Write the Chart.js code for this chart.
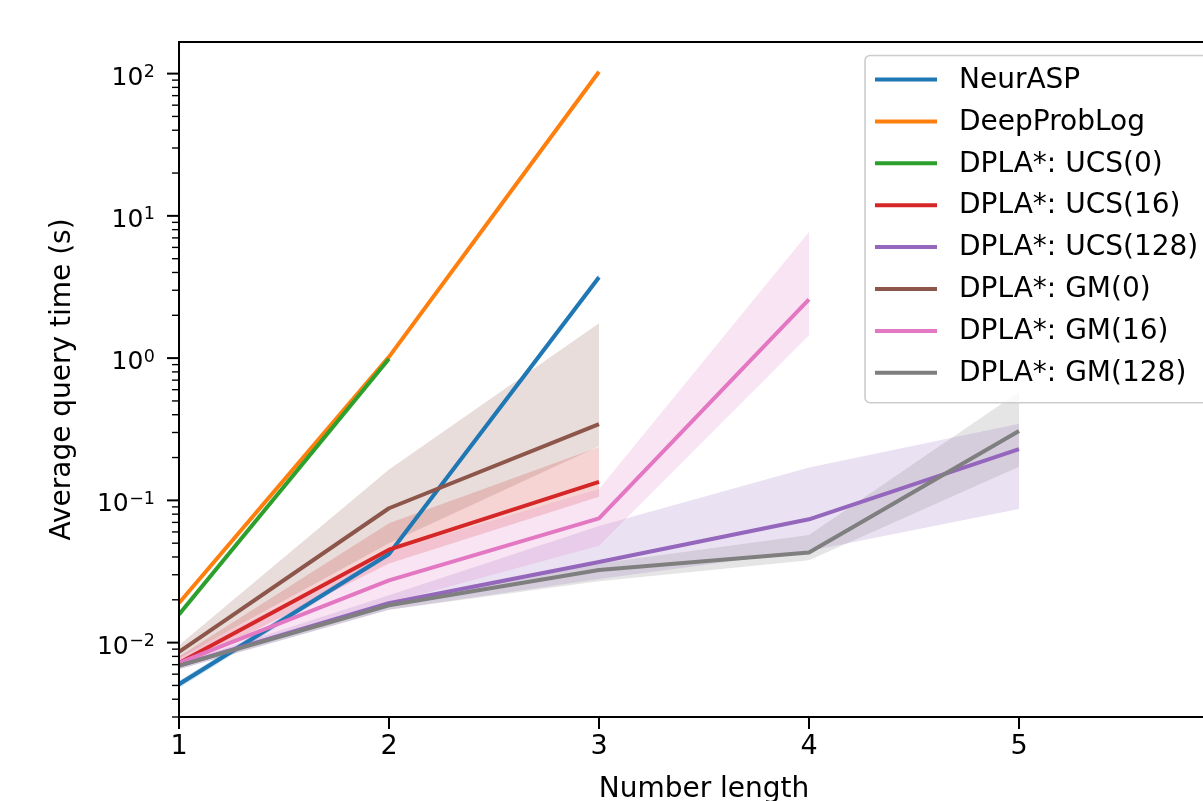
<!DOCTYPE html>
<html>
<head>
<meta charset="utf-8">
<script src="https://cdn.jsdelivr.net/npm/chart.js@4.4.0/dist/chart.umd.min.js"></script>
<style>
    html, body { margin: 0; padding: 0; background: #fff; overflow: hidden; }
    #wrap { width: 1240px; height: 820px; }
</style>
</head>
<body>
<div id="wrap"><canvas id="queryChart" width="1240" height="820"></canvas></div>
<script>
// number lengths on the x axis
const lengths = [1, 2, 3, 4, 5];

// mean query time per method (seconds), with band edges where a band is drawn
const neuraspMean = [0.0051, 0.042, 3.7];
const neuraspLow  = [0.0048, 0.040, 3.5];
const neuraspHigh = [0.0054, 0.044, 3.9];

const deepProbLogMean = [0.019, 1.02, 103];

const ucs0Mean = [0.0158, 0.99];

const ucs16Mean = [0.0072, 0.045, 0.135];
const ucs16Low  = [0.0066, 0.036, 0.106];
const ucs16High = [0.0080, 0.069, 0.237];

const ucs128Mean = [0.0069, 0.0189, 0.0369, 0.0736, 0.229];
const ucs128Low  = [0.0065, 0.0170, 0.0280, 0.0440, 0.087];
const ucs128High = [0.0072, 0.0215, 0.0660, 0.170, 0.345];

const gm0Mean = [0.0086, 0.088, 0.343];
const gm0Low  = [0.0078, 0.050, 0.240];
const gm0High = [0.0096, 0.165, 1.76];

const gm16Mean = [0.0072, 0.0274, 0.0748, 2.59];
const gm16Low  = [0.0066, 0.0190, 0.0480, 1.45];
const gm16High = [0.0080, 0.0440, 0.120, 7.7];

const gm128Mean = [0.0069, 0.0183, 0.0324, 0.0430, 0.307];
const gm128Low  = [0.0065, 0.0170, 0.0270, 0.0380, 0.172];
const gm128High = [0.0072, 0.0196, 0.0360, 0.0570, 0.578];

const seriesNames = ['NeurASP', 'DeepProbLog', 'DPLA*: UCS(0)', 'DPLA*: UCS(16)',
    'DPLA*: UCS(128)', 'DPLA*: GM(0)', 'DPLA*: GM(16)', 'DPLA*: GM(128)'];
const seriesColors = ['#1f77b4', '#ff7f0e', '#2ca02c', '#d62728',
    '#9467bd', '#8c564b', '#e377c2', '#7f7f7f'];

// y tick values: mantissas x decades, labels only on powers of ten
const tickMantissas = [1, 2, 3, 4, 5, 6, 7, 8, 9];
const tickDecades = [-3, -2, -1, 0, 1, 2];

const yMin = 0.003;
const yMax = 166.8;

const series = [
    { mean: neuraspMean, low: neuraspLow, high: neuraspHigh },
    { mean: deepProbLogMean },
    { mean: ucs0Mean },
    { mean: ucs16Mean, low: ucs16Low, high: ucs16High },
    { mean: ucs128Mean, low: ucs128Low, high: ucs128High },
    { mean: gm0Mean, low: gm0Low, high: gm0High },
    { mean: gm16Mean, low: gm16Low, high: gm16High },
    { mean: gm128Mean, low: gm128Low, high: gm128High }
];

function toPoints(vals) {
    return vals.map((v, i) => ({ x: lengths[i], y: v }));
}

function hexToRgba(hex, a) {
    const n = parseInt(hex.slice(1), 16);
    return `rgba(${(n >> 16) & 255}, ${(n >> 8) & 255}, ${n & 255}, ${a})`;
}

const datasets = [];
series.forEach((s, k) => {
    const color = seriesColors[k];
    const order = series.length - k;
    if (s.low) {
        const lowIndex = datasets.length;
        datasets.push({
            label: '_band', data: toPoints(s.low), borderWidth: 0,
            pointRadius: 0, fill: false, order: order
        });
        datasets.push({
            label: '_band', data: toPoints(s.high), borderWidth: 0,
            pointRadius: 0, fill: lowIndex, backgroundColor: hexToRgba(color, 0.2),
            order: order
        });
    }
    datasets.push({
        label: seriesNames[k], data: toPoints(s.mean), borderColor: color,
        borderWidth: 4, pointRadius: 0, fill: false, tension: 0,
        borderCapStyle: 'butt', borderJoinStyle: 'round', order: order
    });
});

function isPowerOfTen(v) {
    const e = Math.round(Math.log10(v));
    return Math.abs(v - Math.pow(10, e)) < 1e-9 * Math.pow(10, e);
}

// frame, tick marks and 10^n labels like matplotlib
const framePlugin = {
    id: 'frame',
    afterDraw(chart) {
        const { ctx, chartArea: a, scales } = chart;
        ctx.save();
        ctx.strokeStyle = '#000';
        ctx.lineWidth = 2;
        ctx.beginPath();
        ctx.moveTo(a.left, a.bottom);
        ctx.lineTo(a.left, a.top);
        ctx.lineTo(a.right, a.top);
        ctx.lineTo(a.right, a.bottom);
        ctx.lineTo(a.left, a.bottom);
        ctx.stroke();
        ctx.fillStyle = '#000';
        ctx.textAlign = 'right';
        ctx.textBaseline = 'alphabetic';
        scales.y.ticks.forEach(t => {
            const major = isPowerOfTen(t.value);
            const py = scales.y.getPixelForValue(t.value);
            ctx.lineWidth = major ? 2 : 1.4;
            ctx.beginPath();
            ctx.moveTo(a.left, py);
            ctx.lineTo(a.left - (major ? 12 : 7), py);
            ctx.stroke();
            if (major) {
                const expText = String(Math.round(Math.log10(t.value))).replace('-', '\u2212');
                ctx.font = '17.5px "DejaVu Sans"';
                const expW = ctx.measureText(expText).width;
                const right = a.left - 24;
                ctx.fillText(expText, right, py + 3.4);
                ctx.font = '25px "DejaVu Sans"';
                ctx.fillText('10', right - expW - 0.5, py + 11);
            }
        });
        ctx.lineWidth = 2;
        scales.x.ticks.forEach(t => {
            const px = scales.x.getPixelForValue(t.value);
            ctx.beginPath();
            ctx.moveTo(px, a.bottom);
            ctx.lineTo(px, a.bottom + 12);
            ctx.stroke();
        });
        ctx.restore();
    }
};

// legend box in the upper right of the plot
const legendPlugin = {
    id: 'boxLegend',
    afterDraw(chart) {
        const { ctx, chartArea: a } = chart;
        const rowH = 41.9;
        const boxRight = a.right - 14;
        const boxLeft = 865;
        const boxTop = a.top + 13.5;
        const boxH = seriesNames.length * rowH + 12;
        ctx.save();
        ctx.beginPath();
        ctx.roundRect(boxLeft, boxTop, boxRight - boxLeft, boxH, 5);
        ctx.fillStyle = 'rgba(255,255,255,0.8)';
        ctx.fill();
        ctx.strokeStyle = '#cccccc';
        ctx.lineWidth = 1.6;
        ctx.stroke();
        ctx.font = '28px "DejaVu Sans"';
        ctx.textBaseline = 'middle';
        ctx.fillStyle = '#000';
        seriesNames.forEach((name, i) => {
            const cy = boxTop + 24 + i * rowH;
            ctx.strokeStyle = seriesColors[i];
            ctx.lineWidth = 4;
            ctx.beginPath();
            ctx.moveTo(875, cy);
            ctx.lineTo(937, cy);
            ctx.stroke();
            ctx.fillText(name, 959, cy + 1);
        });
        ctx.restore();
    }
};

const ctx = document.getElementById('queryChart').getContext('2d');
const queryChart = new Chart(ctx, {
    type: 'line',
    data: { datasets: datasets },
    options: {
        responsive: false,
        animation: false,
        layout: { padding: { top: 42, right: 11, left: 0, bottom: 0 } },
        plugins: {
            legend: { display: false },
            tooltip: { enabled: false },
            filler: { drawTime: 'beforeDatasetsDraw' }
        },
        scales: {
            x: {
                type: 'linear',
                min: 1,
                max: 6,
                grid: { display: false, drawTicks: false },
                border: { display: false },
                ticks: {
                    stepSize: 1,
                    padding: 14,
                    color: '#000',
                    font: { family: 'DejaVu Sans', size: 27 }
                },
                title: {
                    display: true,
                    text: 'Number length',
                    color: '#000',
                    font: { family: 'DejaVu Sans', size: 28 },
                    padding: { top: 0, bottom: 13 }
                },
                afterFit(scale) {
                    scale.height = 103;
                    scale.paddingLeft = 0;
                    scale.paddingRight = 0;
                }
            },
            y: {
                type: 'logarithmic',
                min: yMin,
                max: yMax,
                grid: { display: false, drawTicks: false },
                border: { display: false },
                afterBuildTicks(scale) {
                    const vals = [];
                    tickDecades.forEach(e => tickMantissas.forEach(m => {
                        const v = m * Math.pow(10, e);
                        if (v >= yMin && v <= yMax) vals.push({ value: v });
                    }));
                    scale.ticks = vals;
                },
                ticks: {
                    autoSkip: false,
                    padding: 24,
                    // labels are drawn as 10 with a raised exponent by the frame plugin
                    callback() { return ''; }
                },
                title: {
                    display: true,
                    text: 'Average query time (s)',
                    color: '#000',
                    font: { family: 'DejaVu Sans', size: 28 },
                    padding: { top: 46, bottom: 0 }
                },
                afterFit(scale) {
                    scale.width = 179;
                    scale.paddingTop = 0;
                    scale.paddingBottom = 0;
                }
            }
        }
    },
    plugins: [framePlugin, legendPlugin]
});
</script>
</body>
</html>
